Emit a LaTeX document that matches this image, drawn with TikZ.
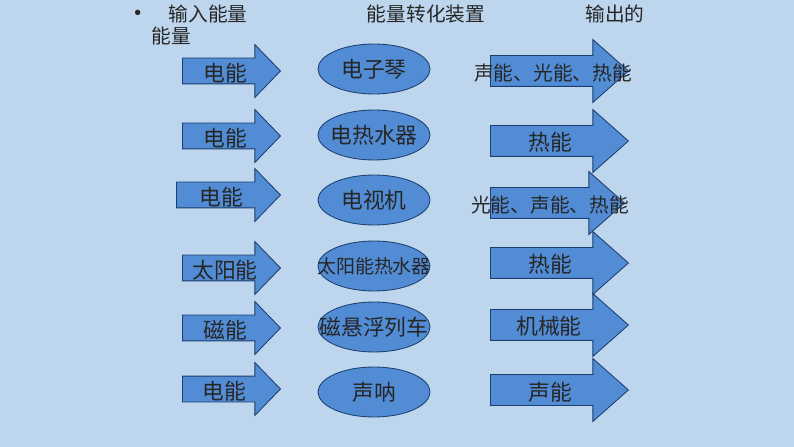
\documentclass[tikz,border=0pt]{standalone}
\usepackage{fontspec}
\usepackage{tikz}
\usetikzlibrary{shapes.arrows,shapes.geometric}
\setmainfont{Noto Sans CJK SC}
\definecolor{slidebg}{RGB}{189, 214, 238}
\definecolor{boxfill}{RGB}{82, 140, 213}
\definecolor{boxline}{RGB}{28, 62, 110}

\begin{document}
\begin{tikzpicture}[
    inarrow/.style={single arrow, draw=boxline, fill=boxfill, line width=0.6pt,
      anchor=tail, inner xsep=0pt, inner ysep=0.3125cm, minimum width=0pt,
      single arrow head extend=0.3375cm, single arrow tip angle=92,
      minimum height=2.45cm},
    outarrow/.style={single arrow, draw=boxline, fill=boxfill, line width=0.6pt,
      anchor=tail, inner xsep=0pt, inner ysep=0.375cm, minimum width=0pt,
      single arrow head extend=0.4cm, single arrow tip angle=83,
      minimum height=3.45cm},
    device/.style={ellipse, draw=boxline, fill=boxfill, line width=0.6pt,
      minimum width=2.8cm, minimum height=1.25cm, inner sep=0pt},
    label text/.style={text=black!85, font=\fontsize{15.5}{18}\selectfont, inner sep=0pt},
    head text/.style={text=black!85, font=\fontsize{14}{16}\selectfont, inner sep=0pt}]
  \useasboundingbox[fill=slidebg] (0,0) rectangle (19.85,-11.175);

  % headings
  \node[head text, font=\fontsize{18}{18}\selectfont] (dot) at (3.45,-0.4) {•};
  \node[head text] (hin) at (5.2,-0.35) {输入能量};
  \node[head text] (hin2) at (4.275,-0.9) {能量};
  \node[head text] (hdev) at (10.65,-0.35) {能量转化装置};
  \node[head text] (hout) at (15.375,-0.35) {输出的};

  % input energy
  \node[inarrow] (in1) at (4.55,-1.775) {};
  \node[inarrow] (in2) at (4.55,-3.4) {};
  \node[inarrow, minimum height=2.6cm] (in3) at (4.4,-4.875) {};
  \node[inarrow] (in4) at (4.55,-6.7) {};
  \node[inarrow] (in5) at (4.55,-8.2) {};
  \node[inarrow] (in6) at (4.55,-9.725) {};
  \node[label text] (tin1) at (5.625,-1.825) {电能};
  \node[label text] (tin2) at (5.625,-3.45) {电能};
  \node[label text] (tin3) at (5.525,-4.925) {电能};
  \node[label text] (tin4) at (5.625,-6.75) {太阳能};
  \node[label text] (tin5) at (5.625,-8.25) {磁能};
  \node[label text] (tin6) at (5.6,-9.775) {电能};

  % devices
  \node[device] (dev1) at (9.35,-1.725) {};
  \node[device] (dev2) at (9.35,-3.375) {};
  \node[device] (dev3) at (9.35,-5.0) {};
  \node[device] (dev4) at (9.35,-6.65) {};
  \node[device] (dev5) at (9.35,-8.175) {};
  \node[device] (dev6) at (9.35,-9.8) {};
  \node[label text] at (dev1) {电子琴};
  \node[label text] at (dev2) {电热水器};
  \node[label text] at (dev3) {电视机};
  \node[label text, font=\fontsize{13.5}{16}\selectfont] at (dev4) {太阳能热水器};
  \node[label text] at (dev5) {磁悬浮列车};
  \node[label text] at (dev6) {声呐};

  % output energy
  \node[outarrow] (out1) at (12.25,-1.775) {};
  \node[outarrow] (out2) at (12.25,-3.525) {};
  \node[outarrow, minimum height=3.35cm] (out3) at (12.25,-5.075) {};
  \node[outarrow] (out4) at (12.25,-6.575) {};
  \node[outarrow] (out5) at (12.25,-8.125) {};
  \node[outarrow] (out6) at (12.25,-9.75) {};
  \node[label text, font=\fontsize{14}{16}\selectfont] (tout1) at (13.825,-1.825) {声能、光能、热能};
  \node[label text] (tout2) at (13.75,-3.55) {热能};
  \node[label text, font=\fontsize{14}{16}\selectfont] (tout3) at (13.75,-5.125) {光能、声能、热能};
  \node[label text] (tout4) at (13.75,-6.6) {热能};
  \node[label text] (tout5) at (13.725,-8.15) {机械能};
  \node[label text] (tout6) at (13.75,-9.8) {声能};
\end{tikzpicture}
\end{document}
